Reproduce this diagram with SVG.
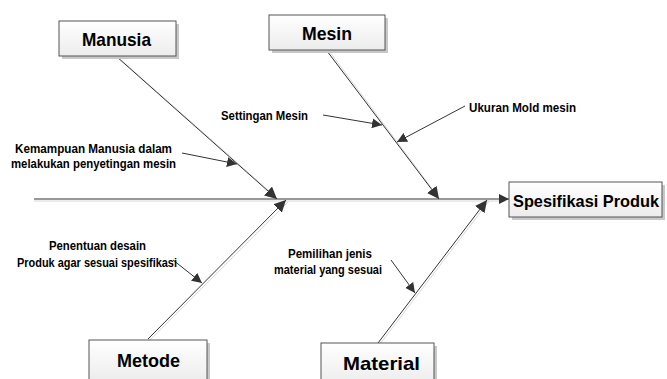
<svg xmlns="http://www.w3.org/2000/svg" width="667" height="379" viewBox="0 0 667 379">
<defs>
<linearGradient id="bg" x1="0" y1="0" x2="0" y2="1">
<stop offset="0" stop-color="#ffffff"/>
<stop offset="1" stop-color="#ececec"/>
</linearGradient>
<marker id="ah" viewBox="0 0 10 10" refX="10" refY="5" markerWidth="10" markerHeight="10" markerUnits="userSpaceOnUse" orient="auto">
<path d="M0,0 L10,5 L0,10 z" fill="#333"/>
</marker>
<marker id="ahb" viewBox="0 0 10 10" refX="10" refY="5" markerWidth="12" markerHeight="12" markerUnits="userSpaceOnUse" orient="auto">
<path d="M0,0 L10,5 L0,10 z" fill="#333"/>
</marker>
</defs>
<style>
.box{fill:url(#bg);stroke:#555;stroke-width:1}
.shadow{fill:#c8c8c8}
.title{font-family:"Liberation Sans",Arial,sans-serif;font-weight:bold;font-size:19px;fill:#000;text-anchor:middle}
.lbl{font-family:"Liberation Sans",Arial,sans-serif;font-weight:bold;font-size:13px;fill:#000;text-anchor:middle}
.bone{stroke:#333;stroke-width:1;fill:none}
.bshadow{stroke:#d8d8d8;stroke-width:1;fill:none}
.sub{stroke:#333;stroke-width:1;fill:none;marker-end:url(#ah)}
</style>
<rect width="667" height="379" fill="#fff"/>
<g id="connectors">
<line class="bshadow" x1="34" y1="201" x2="505" y2="201"/>
<line class="bone" x1="34" y1="199" x2="509" y2="199" marker-end="url(#ah)"/>
<line class="bshadow" x1="119" y1="58" x2="277" y2="198"/>
<line class="bone" x1="117" y1="57" x2="277" y2="199" marker-end="url(#ahb)"/>
<line class="bshadow" x1="329" y1="51" x2="439" y2="198"/>
<line class="bone" x1="327" y1="51" x2="439" y2="199" marker-end="url(#ahb)"/>
<line class="bshadow" x1="150" y1="340" x2="288" y2="202"/>
<line class="bone" x1="148" y1="339" x2="286" y2="200" marker-end="url(#ahb)"/>
<line class="bshadow" x1="380" y1="344" x2="489" y2="201"/>
<line class="bone" x1="378" y1="343" x2="487" y2="200" marker-end="url(#ahb)"/>
<line class="sub" x1="182" y1="153" x2="237" y2="164"/>
<line class="sub" x1="323" y1="115" x2="382" y2="125"/>
<line class="sub" x1="465" y1="106" x2="397" y2="142"/>
<line class="sub" x1="173" y1="260" x2="202" y2="283"/>
<line class="sub" x1="391" y1="260" x2="415" y2="293"/>
</g>
<g id="manusia">
<rect class="shadow" x="62" y="24" width="117" height="35"/>
<rect class="box" x="59" y="21" width="117" height="35"/>
<text class="title" x="116.5" y="45.5" textLength="69" lengthAdjust="spacingAndGlyphs">Manusia</text>
</g>
<g id="mesin">
<rect class="shadow" x="272" y="18" width="116" height="35"/>
<rect class="box" x="269" y="15" width="116" height="35"/>
<text class="title" x="327" y="39.5" textLength="50" lengthAdjust="spacingAndGlyphs">Mesin</text>
</g>
<g id="metode">
<rect class="shadow" x="92" y="343" width="118" height="40"/>
<rect class="box" x="89" y="340" width="118" height="42"/>
<text class="title" x="148.5" y="366.5" textLength="63" lengthAdjust="spacingAndGlyphs">Metode</text>
</g>
<g id="material">
<rect class="shadow" x="324" y="346" width="113" height="40"/>
<rect class="box" x="321" y="343" width="113" height="42"/>
<text class="title" x="381.5" y="369.5" textLength="77" lengthAdjust="spacingAndGlyphs">Material</text>
</g>
<g id="spesifikasi">
<rect class="shadow" x="512" y="185" width="153" height="35"/>
<rect class="box" x="509" y="182" width="153" height="35"/>
<text class="title" x="586" y="206.5" style="font-size:16.5px" textLength="146" lengthAdjust="spacingAndGlyphs">Spesifikasi Produk</text>
</g>
<g id="label-kemampuan">
<text class="lbl" x="93.5" y="153" textLength="157" lengthAdjust="spacingAndGlyphs">Kemampuan Manusia dalam</text>
<text class="lbl" x="93.5" y="168" textLength="165" lengthAdjust="spacingAndGlyphs">melakukan penyetingan mesin</text>
</g>
<g id="label-settingan">
<text class="lbl" x="264.5" y="120" textLength="87" lengthAdjust="spacingAndGlyphs">Settingan Mesin</text>
</g>
<g id="label-ukuran">
<text class="lbl" x="522.5" y="112" textLength="107" lengthAdjust="spacingAndGlyphs">Ukuran Mold mesin</text>
</g>
<g id="label-penentuan">
<text class="lbl" x="97.5" y="250" textLength="97" lengthAdjust="spacingAndGlyphs">Penentuan desain</text>
<text class="lbl" x="97" y="267" textLength="160" lengthAdjust="spacingAndGlyphs">Produk agar sesuai spesifikasi</text>
</g>
<g id="label-pemilihan">
<text class="lbl" x="330" y="257.5" textLength="84" lengthAdjust="spacingAndGlyphs">Pemilihan jenis</text>
<text class="lbl" x="328" y="274" textLength="108" lengthAdjust="spacingAndGlyphs">material yang sesuai</text>
</g>
</svg>
